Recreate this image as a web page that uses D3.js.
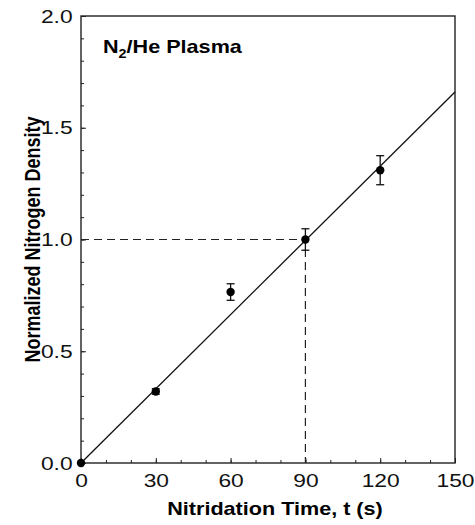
<!DOCTYPE html>
<html>
<head>
<meta charset="utf-8">
<script src="https://cdn.jsdelivr.net/npm/d3@7"></script>
<style>
  html, body { margin: 0; padding: 0; background: #fff; }
  svg { display: block; font-family: "Liberation Sans", Arial, sans-serif; }
</style>
</head>
<body>
<div id="chart"></div>
<script>
// data
const times = [0, 30, 60, 90, 120];
const density = [0, 0.32, 0.765, 1.0, 1.31];
const errors = [0, 0.012, 0.037, 0.048, 0.065];
const fitT = [0, 150];
const fitN = [0, 1.66];
const refT = 90;
const refN = 1.0;
const xTicks = [0, 30, 60, 90, 120, 150];
const yTicks = [0, 0.5, 1.0, 1.5, 2.0];

const W = 475, H = 525;
const margin = { top: 16, right: 20, bottom: 62, left: 81 };
const width = W - margin.left - margin.right;
const height = H - margin.top - margin.bottom;
const stretch = 1.2; // text in the figure is wider than it is tall

const svg = d3.select("#chart").append("svg")
  .attr("width", W)
  .attr("height", H);

const g = svg.append("g")
  .attr("transform", `translate(${margin.left},${margin.top})`);

const x = d3.scaleLinear().domain([0, 150]).range([0, width]);
const y = d3.scaleLinear().domain([0, 2]).range([height, 0]);

// minor ticks (inward)
g.append("g")
  .attr("transform", `translate(0,${height})`)
  .call(d3.axisTop(x).tickValues(d3.range(0, 151, 10)).tickSize(3).tickFormat(""))
  .call((a) => a.select(".domain").remove())
  .selectAll("line").attr("stroke", "#222");
g.append("g")
  .call(d3.axisRight(y).tickValues(d3.range(0, 2.01, 0.1)).tickSize(3).tickFormat(""))
  .call((a) => a.select(".domain").remove())
  .selectAll("line").attr("stroke", "#222");

// major ticks + labels
const xAxis = g.append("g")
  .attr("transform", `translate(0,${height})`)
  .call(d3.axisBottom(x).tickValues(xTicks).tickSizeInner(-5).tickSizeOuter(0).tickPadding(11))
  .call((a) => a.select(".domain").remove());
xAxis.selectAll("line").attr("stroke", "#222");
xAxis.selectAll("text")
  .attr("fill", "#111")
  .style("font-size", "19px")
  .attr("transform", `scale(${stretch},1)`);

const yAxis = g.append("g")
  .call(d3.axisLeft(y).tickValues(yTicks).tickFormat(d3.format(".1f")).tickSizeInner(-5).tickSizeOuter(0).tickPadding(7))
  .call((a) => a.select(".domain").remove());
yAxis.selectAll("line").attr("stroke", "#222");
yAxis.selectAll("text")
  .attr("fill", "#111")
  .style("font-size", "19px")
  .attr("transform", `scale(${stretch},1)`);

// frame
g.append("rect")
  .attr("x", 0).attr("y", 0)
  .attr("width", width).attr("height", height)
  .attr("fill", "none")
  .attr("stroke", "#222")
  .attr("stroke-width", 1.4);

// dashed reference lines
g.append("path")
  .attr("d", d3.line()([[x(0), y(refN)], [x(refT), y(refN)], [x(refT), y(0)]]))
  .attr("fill", "none")
  .attr("stroke", "#222")
  .attr("stroke-width", 1.2)
  .attr("stroke-dasharray", "8,5");

// linear fit
const fit = fitT.map((t, i) => [t, fitN[i]]);
g.append("path")
  .datum(fit)
  .attr("d", d3.line().x((d) => x(d[0])).y((d) => y(d[1])))
  .attr("fill", "none")
  .attr("stroke", "#111")
  .attr("stroke-width", 1.3);

// error bars
const pts = times.map((t, i) => ({ t, n: density[i], e: errors[i] }));
const eb = g.append("g").attr("stroke", "#111").attr("stroke-width", 1.3);
pts.filter((d) => d.e > 0).forEach((d) => {
  eb.append("line")
    .attr("x1", x(d.t)).attr("x2", x(d.t))
    .attr("y1", y(d.n - d.e)).attr("y2", y(d.n + d.e));
  [d.n - d.e, d.n + d.e].forEach((v) => {
    eb.append("line")
      .attr("x1", x(d.t) - 4).attr("x2", x(d.t) + 4)
      .attr("y1", y(v)).attr("y2", y(v));
  });
});

// points
g.append("g")
  .selectAll("circle")
  .data(pts)
  .join("circle")
  .attr("cx", (d) => x(d.t))
  .attr("cy", (d) => y(d.n))
  .attr("r", 4.2)
  .attr("fill", "#000");

// annotation
const ann = g.append("text")
  .attr("transform", `translate(22,37) scale(${stretch},1)`)
  .attr("fill", "#000")
  .style("font-size", "18px")
  .style("font-weight", "bold");
ann.append("tspan").text("N");
ann.append("tspan").attr("dy", 5).style("font-size", "12px").text("2");
ann.append("tspan").attr("dy", -5).text("/He Plasma");

// axis titles
svg.append("text")
  .attr("transform", `translate(${margin.left + width / 2 + 7},${H - 10}) scale(${stretch},1)`)
  .attr("text-anchor", "middle")
  .attr("fill", "#000")
  .style("font-size", "18px")
  .style("font-weight", "bold")
  .text("Nitridation Time, t (s)");

svg.append("text")
  .attr("transform", `translate(40,${margin.top + y(1)}) scale(${stretch},1) rotate(-90)`)
  .attr("text-anchor", "middle")
  .attr("fill", "#000")
  .style("font-size", "18px")
  .style("font-weight", "bold")
  .text("Normalized Nitrogen Density");
</script>
</body>
</html>
